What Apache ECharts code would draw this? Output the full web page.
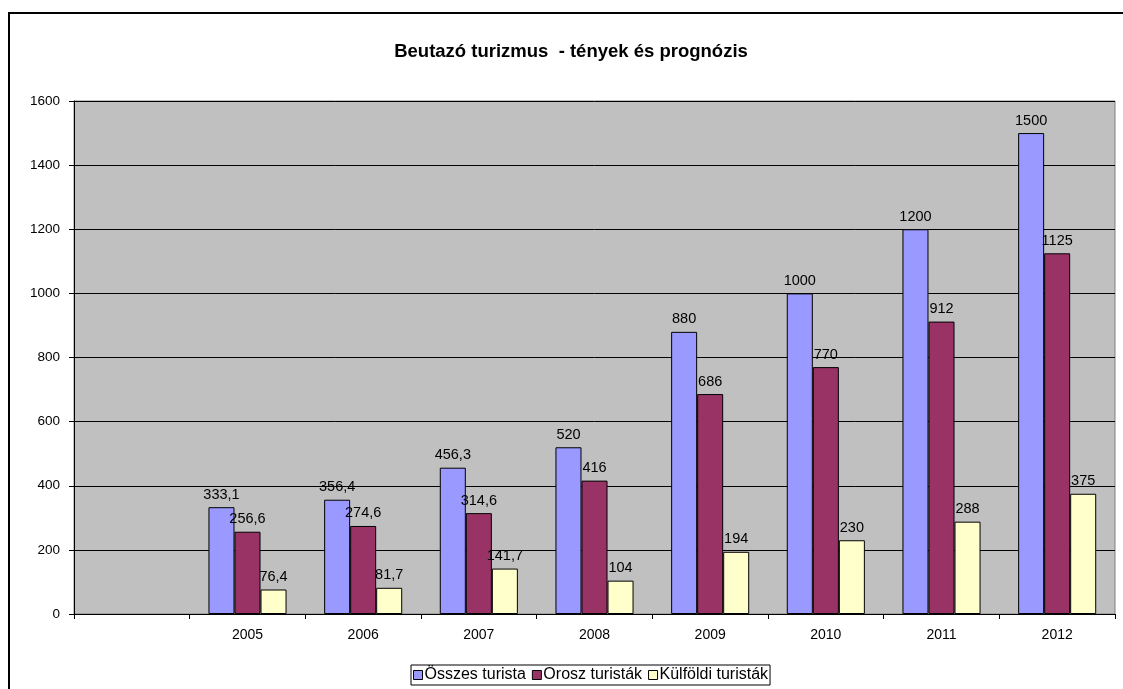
<!DOCTYPE html>
<html>
<head>
<meta charset="utf-8">
<script src="https://cdn.jsdelivr.net/npm/echarts@6/dist/echarts.min.js"></script>
<style>
html,body{margin:0;padding:0;background:#fff;}
#main{width:1123px;height:689px;}
</style>
</head>
<body>
<div id="main"></div>
<script>
var categories = ['', '2005', '2006', '2007', '2008', '2009', '2010', '2011', '2012'];
var osszes = ['-', 333.1, 356.4, 456.3, 520, 880, 1000, 1200, 1500];
var orosz = ['-', 256.6, 274.6, 314.6, 416, 686, 770, 912, 1125];
var kulfoldi = ['-', 76.4, 81.7, 141.7, 104, 194, 230, 288, 375];
var seriesNames = ['Összes turista', 'Orosz turisták', 'Külföldi turisták'];
var yTicks = [0, 200, 400, 600, 800, 1000, 1200, 1400, 1600];

var chart = echarts.init(document.getElementById('main'), null, {renderer: 'canvas'});
var font = 'Liberation Sans, Arial, sans-serif';
function lbl(p) { return String(p.value).replace('.', ','); }
function mk(name, data, color) {
  return {
    name: name, type: 'bar', data: data,
    barGap: '0%', barCategoryGap: '32.5%',
    itemStyle: {color: color, borderColor: '#000', borderWidth: 1},
    label: {show: true, position: 'top', distance: 5, formatter: lbl,
      color: '#000', fontSize: 14.5, fontFamily: font},
    emphasis: {disabled: true}
  };
}
chart.setOption({
  animation: false,
  backgroundColor: '#fff',
  title: {
    text: 'Beutazó turizmus  - tények és prognózis',
    left: 566, top: 37, textAlign: 'center',
    textStyle: {fontSize: 18.5, fontWeight: 'bold', color: '#000', fontFamily: font}
  },
  graphic: [{
    type: 'rect', shape: {x: 9, y: 13, width: 1130, height: 700},
    style: {fill: 'none', stroke: '#000', lineWidth: 2}, silent: true, z: 100
  }],
  legend: {
    data: seriesNames,
    bottom: 4, left: 411,
    itemWidth: 9, itemHeight: 9, itemGap: 6,
    icon: 'rect',
    borderColor: '#000', borderWidth: 1, padding: [2, 2, 2, 2],
    textStyle: {fontSize: 16, color: '#000', fontFamily: font, padding: [0, 0, 0, -3]},
    itemStyle: {borderColor: '#000', borderWidth: 1}
  },
  grid: {
    left: 74, top: 101, right: 8, bottom: 75,
    show: true, backgroundColor: '#C0C0C0', borderColor: '#808080', borderWidth: 1
  },
  xAxis: {
    type: 'category', data: categories,
    axisLine: {lineStyle: {color: '#000', width: 1}},
    axisTick: {show: true, length: 5, lineStyle: {color: '#000'}},
    axisLabel: {fontSize: 14, color: '#000', fontFamily: font, margin: 14}
  },
  yAxis: {
    type: 'value', min: yTicks[0], max: yTicks[yTicks.length - 1], interval: 200,
    axisLine: {show: true, lineStyle: {color: '#000'}},
    axisTick: {show: true, length: 5, lineStyle: {color: '#000'}},
    axisLabel: {fontSize: 13.5, color: '#000', fontFamily: font, margin: 14,
      formatter: function (v) { return String(v); }},
    splitLine: {lineStyle: {color: '#000', width: 1}}
  },
  series: [
    mk(seriesNames[0], osszes, '#9999FF'),
    mk(seriesNames[1], orosz, '#993366'),
    mk(seriesNames[2], kulfoldi, '#FFFFCC')
  ]
});
</script>
</body>
</html>
